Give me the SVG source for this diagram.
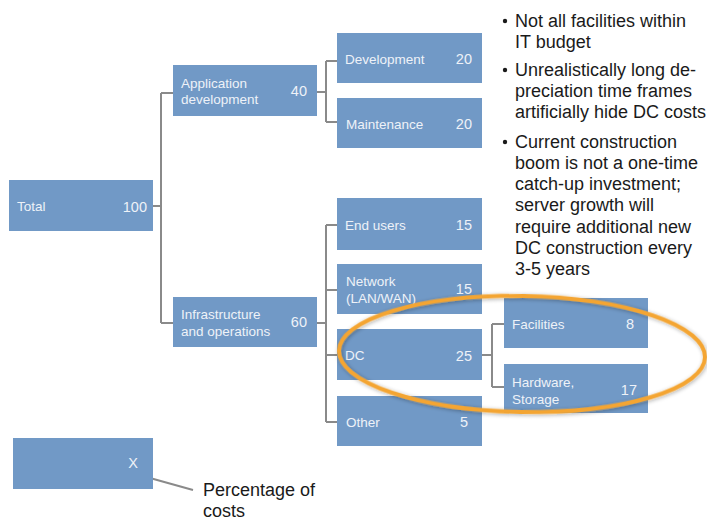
<svg xmlns="http://www.w3.org/2000/svg" width="707" height="525" viewBox="0 0 707 525">
<defs>
<style>
.box{fill:#7199c6;}
.lbl{font-family:"Liberation Sans",Arial,sans-serif;font-size:13.5px;fill:#eef2f8;}
.num{font-family:"Liberation Sans",Arial,sans-serif;font-size:14.5px;fill:#eef2f8;text-anchor:end;}
.con{fill:none;stroke:#8a8a8a;stroke-width:2;}
.bul{font-family:"Liberation Sans",Arial,sans-serif;font-size:18px;fill:#1a1a1a;}
</style>
<filter id="glow" x="-10%" y="-30%" width="120%" height="160%">
<feGaussianBlur in="SourceAlpha" stdDeviation="2"/>
<feOffset dx="1" dy="1" result="b"/>
<feComponentTransfer><feFuncA type="linear" slope="0.35"/></feComponentTransfer>
<feMerge><feMergeNode/><feMergeNode in="SourceGraphic"/></feMerge>
</filter>
</defs>
<rect width="707" height="525" fill="#ffffff"/>
<g id="connectors">
<path class="con" d="M153,206 H161 M161,93 V323 M161,93 H173 M161,323 H173"/>
<path class="con" d="M317,92 H326 M326,61 V122 M326,61 H337 M326,122 H337"/>
<path class="con" d="M317,323 H326 M326,225 V422 M326,225 H337 M326,290 H337 M326,355 H337 M326,422 H337"/>
<path class="con" d="M482,355 H492 M492,324 V387 M492,324 H504 M492,387 H504"/>
<path class="con" d="M132,473 L193,490"/>
</g>
<g id="total"><rect class="box" x="9" y="180" width="144" height="51"/><text class="lbl" x="17" y="211">Total</text><text class="num" x="147" y="212">100</text></g>
<g id="appdev"><rect class="box" x="173" y="65" width="144" height="51"/><text class="lbl" x="181" y="88">Application</text><text class="lbl" x="181" y="104">development</text><text class="num" x="307" y="96">40</text></g>
<g id="development"><rect class="box" x="337" y="33" width="145" height="50"/><text class="lbl" x="345" y="64">Development</text><text class="num" x="472" y="64">20</text></g>
<g id="maintenance"><rect class="box" x="337" y="98" width="145" height="50"/><text class="lbl" x="346" y="129">Maintenance</text><text class="num" x="472" y="129">20</text></g>
<g id="infra"><rect class="box" x="173" y="297" width="144" height="50"/><text class="lbl" x="181" y="319">Infrastructure</text><text class="lbl" x="181" y="336">and operations</text><text class="num" x="307" y="327">60</text></g>
<g id="endusers"><rect class="box" x="337" y="198" width="145" height="52"/><text class="lbl" x="345" y="230">End users</text><text class="num" x="472" y="230">15</text></g>
<g id="network"><rect class="box" x="337" y="264" width="145" height="50"/><text class="lbl" x="346" y="286">Network</text><text class="lbl" x="346" y="303">(LAN/WAN)</text><text class="num" x="472" y="294">15</text></g>
<g id="dc"><rect class="box" x="337" y="329" width="145" height="51"/><text class="lbl" x="345" y="360">DC</text><text class="num" x="472" y="361">25</text></g>
<g id="other"><rect class="box" x="337" y="396" width="145" height="50"/><text class="lbl" x="346" y="427">Other</text><text class="num" x="468" y="427">5</text></g>
<g id="facilities"><rect class="box" x="504" y="298" width="144" height="50"/><text class="lbl" x="512" y="329">Facilities</text><text class="num" x="634" y="329">8</text></g>
<g id="hardware"><rect class="box" x="504" y="364" width="144" height="49"/><text class="lbl" x="512" y="387">Hardware,</text><text class="lbl" x="512" y="404">Storage</text><text class="num" x="637" y="395">17</text></g>
<g id="highlight"><ellipse cx="522" cy="354" rx="183" ry="58" transform="rotate(1 522 354)" fill="none" stroke="#f4a533" stroke-width="4" filter="url(#glow)"/></g>
<g id="legend"><rect class="box" x="13" y="438" width="140" height="51"/><text class="num" x="133" y="468" style="text-anchor:middle">X</text></g>
<g id="legend-label"><text class="bul" x="203" y="496">Percentage of</text><text class="bul" x="203" y="517">costs</text></g>
<g id="notes">
<circle cx="505" cy="21" r="2.2" fill="#1a1a1a"/>
<text class="bul" x="515" y="27">Not all facilities within</text>
<text class="bul" x="515" y="48">IT budget</text>
<circle cx="505" cy="70" r="2.2" fill="#1a1a1a"/>
<text class="bul" x="515" y="76">Unrealistically long de-</text>
<text class="bul" x="515" y="97">preciation time frames</text>
<text class="bul" x="515" y="118">artificially hide DC costs</text>
<circle cx="505" cy="142" r="2.2" fill="#1a1a1a"/>
<text class="bul" x="515" y="148">Current construction</text>
<text class="bul" x="515" y="169">boom is not a one-time</text>
<text class="bul" x="515" y="190">catch-up investment;</text>
<text class="bul" x="515" y="211">server growth will</text>
<text class="bul" x="515" y="233">require additional new</text>
<text class="bul" x="515" y="254">DC construction every</text>
<text class="bul" x="515" y="275">3-5 years</text>
</g>
</svg>
